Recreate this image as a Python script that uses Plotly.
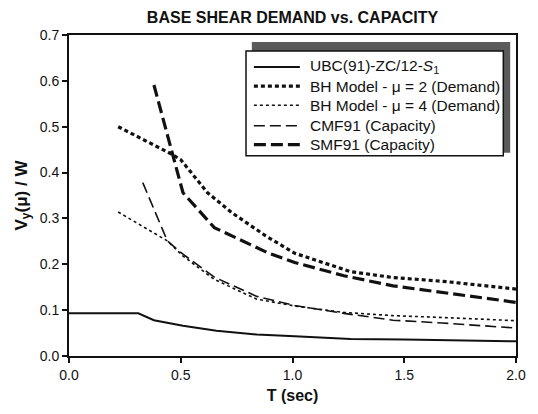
import plotly.graph_objects as go

# ---- data ----
T_ubc = [0.0, 0.31, 0.38, 0.51, 0.66, 0.84, 1.01, 1.26, 1.5, 1.75, 2.0]
V_ubc = [0.093, 0.093, 0.078, 0.066, 0.055, 0.047, 0.043, 0.037, 0.036, 0.034, 0.032]

T_bh2 = [0.22, 0.46, 0.50, 0.62, 0.73, 0.88, 1.01, 1.13, 1.26, 1.45, 1.67, 2.0]
V_bh2 = [0.50, 0.44, 0.428, 0.356, 0.312, 0.262, 0.224, 0.204, 0.184, 0.171, 0.163, 0.146]

T_bh4 = [0.22, 0.44, 0.51, 0.65, 0.84, 1.01, 1.23, 1.45, 1.67, 2.0]
V_bh4 = [0.314, 0.251, 0.218, 0.167, 0.124, 0.109, 0.095, 0.088, 0.084, 0.077]

T_cmf = [0.33, 0.44, 0.51, 0.65, 0.84, 1.01, 1.23, 1.45, 1.67, 2.0]
V_cmf = [0.378, 0.251, 0.222, 0.172, 0.130, 0.110, 0.093, 0.078, 0.072, 0.061]

T_smf = [0.38, 0.51, 0.65, 0.76, 0.89, 1.01, 1.23, 1.45, 1.67, 2.0]
V_smf = [0.591, 0.356, 0.280, 0.254, 0.225, 0.204, 0.175, 0.153, 0.138, 0.117]

names = [
    "UBC(91)-ZC/12-<i>S</i><sub>1</sub>",
    "BH Model - \u03bc = 2 (Demand)",
    "BH Model - \u03bc = 4 (Demand)",
    "CMF91 (Capacity)",
    "SMF91 (Capacity)",
]

ink = "#111111"
styles = [
    dict(color=ink, width=2),
    dict(color=ink, width=3.2, dash="4px,3px"),
    dict(color=ink, width=1.6, dash="3px,3px"),
    dict(color=ink, width=1.6, dash="11px,5px"),
    dict(color=ink, width=3.2, dash="12px,5px"),
]
series = [(T_ubc, V_ubc), (T_bh2, V_bh2), (T_bh4, V_bh4), (T_cmf, V_cmf), (T_smf, V_smf)]

fig = go.Figure()
for (xs, ys), nm, st in zip(series, names, styles):
    fig.add_trace(go.Scatter(x=xs, y=ys, mode="lines", name=nm, line=st,
                             showlegend=False))

font_family = "Liberation Sans, Arial, sans-serif"

# ---- custom legend box with offset shadow (paper coordinates) ----
shapes = [
    dict(type="rect", xref="paper", yref="paper", x0=0.409, x1=0.987, y0=0.6335, y1=0.978,
         fillcolor="#5a5a5a", line=dict(width=0), layer="above"),
    dict(type="rect", xref="paper", yref="paper", x0=0.396, x1=0.9716, y0=0.624, y1=0.950,
         fillcolor="white", line=dict(color=ink, width=1.5), layer="above"),
]
row_y = [0.9006, 0.8407, 0.781, 0.7174, 0.6584]
annotations = []
for ry, nm, st in zip(row_y, names, styles):
    shapes.append(dict(type="line", xref="paper", yref="paper", x0=0.4136, x1=0.5164,
                       y0=ry, y1=ry, line=st, layer="above"))
    annotations.append(dict(xref="paper", yref="paper", x=0.534, y=ry, text=nm,
                            showarrow=False, xanchor="left", yanchor="middle",
                            font=dict(size=15.5, family=font_family, color=ink)))

fig.update_layout(
    width=538, height=414,
    margin=dict(l=69, r=12, t=35, b=57),
    paper_bgcolor="white", plot_bgcolor="white",
    font=dict(family=font_family, color=ink, size=14),
    title=dict(text="<b>BASE SHEAR DEMAND vs. CAPACITY</b>",
               x=0.5, xref="paper", y=1 - 17 / 414, yanchor="middle",
               font=dict(size=16, family=font_family, color=ink)),
    showlegend=False,
    shapes=shapes,
    annotations=annotations,
)

fig.update_xaxes(range=[0, 2.0], tickvals=[0, 0.5, 1.0, 1.5, 2.0],
                 ticktext=["0.0", "0.5", "1.0", "1.5", "2.0"],
                 ticks="outside", ticklen=5, tickwidth=1.5, tickcolor=ink,
                 showline=True, linewidth=2, linecolor=ink, mirror=True,
                 showgrid=False, zeroline=False,
                 tickfont=dict(size=14),
                 title=dict(text="<b>T (sec)</b>", font=dict(size=16), standoff=8))
fig.update_yaxes(range=[0, 0.7], tickvals=[0, 0.1, 0.2, 0.3, 0.4, 0.5, 0.6, 0.7],
                 ticktext=["0.0", "0.1", "0.2", "0.3", "0.4", "0.5", "0.6", "0.7"],
                 ticks="outside", ticklen=5, tickwidth=1.5, tickcolor=ink,
                 showline=True, linewidth=2, linecolor=ink, mirror=True,
                 showgrid=False, zeroline=False,
                 tickfont=dict(size=14),
                 title=dict(text="<b>V<sub>y</sub>(\u03bc) / W</b>", font=dict(size=17), standoff=8))

fig.write_html("out.html")
